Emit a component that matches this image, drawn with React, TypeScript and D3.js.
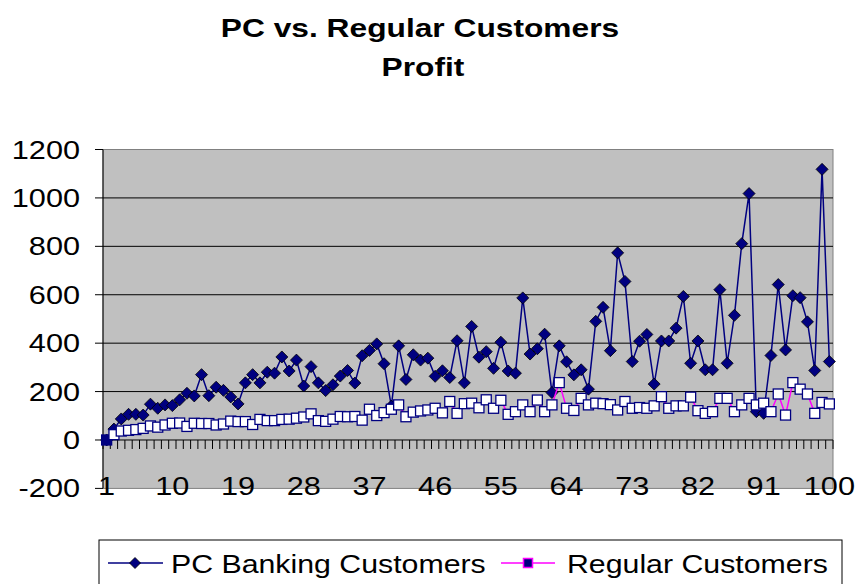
import React from 'react';
import * as d3 from 'd3';

const categories: number[] = d3.range(1, 101);
const pcBanking: number[] = [
  0, 45, 87, 106, 106, 103, 148, 131, 145, 142,
  166, 193, 182, 270, 183, 218, 205, 178, 149, 236,
  270, 236, 280, 276, 343, 285, 330, 223, 303, 236,
  204, 228, 264, 287, 235, 348, 370, 397, 315, 140,
  389, 250, 352, 330, 338, 263, 286, 258, 410, 236,
  469, 342, 365, 296, 404, 285, 276, 587, 355, 377,
  437, 196, 389, 323, 269, 290, 210, 490, 548, 369,
  773, 655, 324, 408, 436, 231, 409, 409, 462, 593,
  317, 409, 290, 290, 621, 317, 515, 811, 1018, 117,
  110, 349, 642, 372, 596, 588, 488, 287, 1118, 324,
];
const regular: number[] = [
  0, 22, 37, 40, 43, 48, 58, 53, 62, 69,
  70, 56, 69, 68, 68, 62, 66, 78, 76, 76,
  64, 85, 80, 80, 85, 86, 90, 95, 108, 80,
  77, 86, 97, 96, 97, 82, 127, 101, 113, 127,
  145, 96, 115, 120, 124, 131, 112, 159, 110, 150,
  152, 133, 166, 131, 164, 106, 117, 145, 117, 165,
  117, 145, 237, 131, 122, 172, 145, 152, 150, 146,
  124, 159, 131, 134, 131, 141, 179, 131, 141, 141,
  177, 121, 110, 117, 172, 172, 117, 145, 172, 145,
  152, 117, 190, 103, 237, 210, 190, 110, 155, 149,
];
const yTicks: number[] = [-200, 0, 200, 400, 600, 800, 1000, 1200];
const xTickLabels: number[] = [1, 10, 19, 28, 37, 46, 55, 64, 73, 82, 91, 100];
const titleLines: string[] = ['PC vs. Regular Customers', 'Profit'];
const seriesNames: string[] = ['PC Banking Customers', 'Regular Customers'];

const FONT = "'Liberation Sans', Arial, sans-serif";
const NAVY = '#000080';
const MAGENTA = '#FF00FF';

export default function App() {
  const W = 859, H = 584;
  const left = 103, right = 833, top = 149.5, bottom = 488.4;
  const x = d3.scaleBand<number>().domain(categories).range([left, right]).padding(0);
  const cx = (c: number) => (x(c) as number) + x.bandwidth() / 2;
  const y = d3.scaleLinear().domain([-200, 1200]).range([bottom, top]);

  const pcLine = d3.line<number>().x((_, i) => cx(categories[i])).y((d) => y(d))(pcBanking) || '';
  const regLine = d3.line<number>().x((_, i) => cx(categories[i])).y((d) => y(d))(regular) || '';
  const diamond = (px: number, py: number, r: number) => `M${px},${py - r}L${px + r},${py}L${px},${py + r}L${px - r},${py}Z`;

  const boundaries = d3.range(0, categories.length + 1).map((k) => left + k * x.bandwidth());
  const sx = 1.18;
  const lsx = 1.165;

  return (
    <svg width={W} height={H} style={{ position: 'absolute', left: 0, top: 0, background: '#fff' }} fontFamily={FONT}>
      <rect x={0} y={0} width={W} height={H} fill="#fff" />
      {/* title */}
      <text transform={`translate(420,37) scale(1.22,1)`} textAnchor="middle" fontWeight="bold" fontSize={26}>{titleLines[0]}</text>
      <text transform={`translate(423,76) scale(1.22,1)`} textAnchor="middle" fontWeight="bold" fontSize={26}>{titleLines[1]}</text>

      {/* plot area */}
      <rect x={left} y={top} width={right - left} height={bottom - top} fill="#C0C0C0" stroke="#808080" strokeWidth={1} />
      {yTicks.filter((t) => t !== -200 && t !== 1200 && t !== 0).map((t) => (
        <line key={'g' + t} x1={left} x2={right} y1={y(t)} y2={y(t)} stroke="#000" strokeWidth={1} />
      ))}
      {/* y axis */}
      <line x1={left} x2={left} y1={top} y2={bottom} stroke="#000" strokeWidth={1} />
      {yTicks.map((t) => (
        <g key={'yt' + t}>
          <line x1={left - 8} x2={left} y1={y(t)} y2={y(t)} stroke="#000" strokeWidth={1} />
          <text transform={`translate(80,${y(t) + 9}) scale(${sx},1)`} textAnchor="end" fontSize={26}>{t}</text>
        </g>
      ))}
      {/* x axis at 0 */}
      <line x1={left} x2={right} y1={y(0)} y2={y(0)} stroke="#000" strokeWidth={1} />
      {boundaries.map((b, k) => (
        <line key={'xt' + k} x1={b} x2={b} y1={y(0)} y2={y(0) + 9} stroke="#000" strokeWidth={1} />
      ))}
      {xTickLabels.map((c) => (
        <text key={'xl' + c} transform={`translate(${cx(c)},${bottom + 7}) scale(${sx},1)`} textAnchor="middle" fontSize={26}>{c}</text>
      ))}

      {/* PC series */}
      <path d={pcLine} fill="none" stroke={NAVY} strokeWidth={1.5} />
      {pcBanking.map((v, i) => (
        <path key={'d' + i} d={diamond(cx(categories[i]), y(v), 6)} fill={NAVY} stroke="#000" strokeWidth={0.8} />
      ))}
      {/* Regular series */}
      <path d={regLine} fill="none" stroke={MAGENTA} strokeWidth={1.5} />
      {regular.map((v, i) => (
        <rect key={'s' + i} x={cx(categories[i]) - 5} y={y(v) - 5} width={10} height={10}
          fill={i === 0 ? NAVY : '#fff'} stroke={NAVY} strokeWidth={1.3} />
      ))}

      {/* legend */}
      <rect x={99} y={540} width={743} height={50} fill="#fff" stroke="#000" strokeWidth={1} />
      <line x1={108} x2={163} y1={563} y2={563} stroke={NAVY} strokeWidth={1.5} />
      <path d={diamond(135, 563, 5.5)} fill={NAVY} stroke="#000" strokeWidth={0.8} />
      <text transform={`translate(171,573) scale(${lsx},1)`} fontSize={26}>{seriesNames[0]}</text>
      <line x1={501} x2={555} y1={563} y2={563} stroke={MAGENTA} strokeWidth={1.5} />
      <rect x={523.5} y={558.5} width={9} height={9} fill={NAVY} stroke={MAGENTA} strokeWidth={1.5} />
      <text transform={`translate(567,573) scale(${lsx},1)`} fontSize={26}>{seriesNames[1]}</text>
    </svg>
  );
}
